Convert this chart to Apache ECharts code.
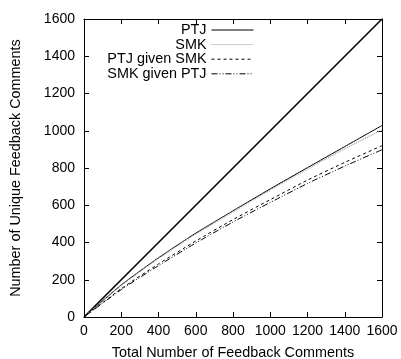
<!DOCTYPE html>
<html><head><meta charset="utf-8">
<script src="https://cdn.jsdelivr.net/npm/echarts@6/dist/echarts.min.js"></script>
<style>html,body{margin:0;padding:0;background:#fff}#c{width:401px;height:359px}</style>
</head><body><div id="c"></div>
<script>
var xs = [0, 200, 400, 600, 800, 1000, 1200, 1400, 1600];
var ptj = [0, 172, 318, 450, 570, 688, 802, 915, 1028];
var smk = [0, 170, 315, 446, 565, 682, 795, 903, 1005];
var ptjGivenSmk = [0, 152, 285, 408, 523, 630, 735, 830, 920];
var smkGivenPtj = [0, 147, 276, 397, 510, 615, 717, 810, 898];
var refX = [0, 1600];
var refY = [0, 1600];
var ticks = [0, 200, 400, 600, 800, 1000, 1200, 1400, 1600];
var names = ['PTJ', 'SMK', 'PTJ given SMK', 'SMK given PTJ'];

function pairs(x, y) { return x.map(function (v, i) { return [v, y[i]]; }); }
var font = 'Liberation Sans, Arial, sans-serif';
var chart = echarts.init(document.getElementById('c'), null, {renderer: 'canvas'});
var axisCommon = {
  type: 'value', min: ticks[0], max: ticks[ticks.length - 1], interval: 200,
  axisLine: {show: true, onZero: false, lineStyle: {color: '#000', width: 1}},
  axisTick: {show: true, inside: true, length: 5, lineStyle: {color: '#000'}},
  splitLine: {show: false}
};
function ax(extra) { return Object.assign({}, axisCommon, extra); }
var styles = [
  {color: '#000', width: 1, type: 'solid'},
  {color: '#999', width: 1.2, type: [1, 1]},
  {color: '#000', width: 1, type: [3, 3]},
  {color: '#000', width: 1, type: [6, 2, 1, 2, 1, 2]}
];
var data = [ptj, smk, ptjGivenSmk, smkGivenPtj];
var series = [{
  name: 'ref', type: 'line', data: pairs(refX, refY), symbol: 'none',
  lineStyle: {color: '#000', width: 1.6}, silent: true
}];
names.forEach(function (n, i) {
  series.push({name: n, type: 'line', data: pairs(xs, data[i]), symbol: 'none', showSymbol: false,
    smooth: 0.2,
    lineStyle: styles[i], itemStyle: {color: styles[i].color}});
});
var legends = names.map(function (n, i) {
  return {
    data: [{name: n, itemStyle: {opacity: 0}}], orient: 'vertical', align: 'right', right: 147, top: 23 + i * 14.6,
    itemWidth: 42, itemHeight: 10, itemGap: 6, padding: 0,
    lineStyle: {width: 1},
    textStyle: {fontFamily: font, fontSize: 14.4, color: '#000'}
  };
});
var lab = function (v) { return String(v); };
chart.setOption({
  animation: false,
  backgroundColor: '#fff',
  grid: {left: 84, right: 19, top: 19, bottom: 42, show: false, outerBoundsMode: 'none', containLabel: false},
  legend: legends,
  xAxis: [
    ax({position: 'bottom', name: 'Total Number of Feedback Comments', nameLocation: 'middle', nameGap: 29,
      nameTextStyle: {fontFamily: font, fontSize: 14.4, color: '#000'},
      axisLabel: {fontFamily: font, fontSize: 14, color: '#000', margin: 7, formatter: lab}}),
    ax({position: 'top', axisLabel: {show: false}})
  ],
  yAxis: [
    ax({position: 'left', name: 'Number of Unique Feedback Comments', nameLocation: 'middle', nameGap: 61,
      nameTextStyle: {fontFamily: font, fontSize: 14.4, color: '#000'},
      axisLabel: {fontFamily: font, fontSize: 14, color: '#000', margin: 9, formatter: lab}}),
    ax({position: 'right', axisLabel: {show: false}})
  ],
  series: series
});
</script></body></html>
